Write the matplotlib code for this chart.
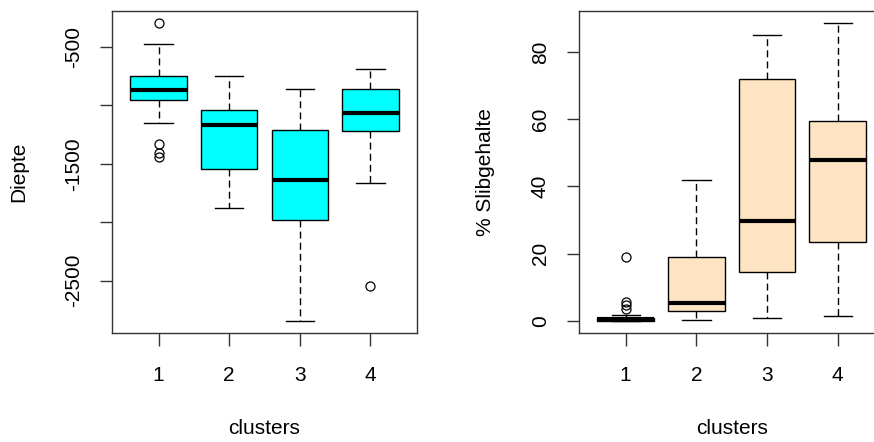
import matplotlib
matplotlib.use("Agg")
import matplotlib.pyplot as plt

# cluster labels
clusters = ["1", "2", "3", "4"]

# Diepte per cluster (box statistics)
diepte_whislo = [-1150, -1880, -2845, -1665]
diepte_q1 = [-955, -1545, -1980, -1220]
diepte_med = [-870, -1172, -1642, -1067]
diepte_q3 = [-750, -1038, -1210, -862]
diepte_whishi = [-474, -750, -862, -691]
diepte_fliers = [[-295, -1333, -1406, -1440], [], [], [-2545]]

# % Slibgehalte per cluster
slib_whislo = [0.0, 0.3, 0.8, 1.6]
slib_q1 = [0.1, 2.8, 14.6, 23.4]
slib_med = [0.5, 5.4, 29.7, 47.8]
slib_q3 = [1.0, 19.1, 72.0, 59.6]
slib_whishi = [1.9, 41.8, 85.1, 88.6]
slib_fliers = [[3.4, 4.6, 5.6, 19.1], [], [], []]

plt.rcParams['font.family'] = ['Liberation Sans', 'DejaVu Sans']


def stats(lo, q1, med, q3, hi, fl):
    out = []
    for i in range(len(clusters)):
        out.append(dict(whislo=lo[i], q1=q1[i], med=med[i], q3=q3[i],
                        whishi=hi[i], fliers=fl[i], label=clusters[i]))
    return out


def rbox(ax, st, colour, ylab, yticks, ylim):
    ax.bxp(st, positions=[1, 2, 3, 4], widths=0.8, patch_artist=True,
           boxprops=dict(facecolor=colour, edgecolor='black', linewidth=1.0),
           medianprops=dict(color='black', linewidth=3.0, solid_capstyle='butt'),
           whiskerprops=dict(color='black', linewidth=1.0, linestyle=(0, (5, 3))),
           capprops=dict(color='black', linewidth=1.0),
           capwidths=0.4,
           flierprops=dict(marker='o', markerfacecolor='none', markeredgecolor='black',
                           markersize=6.5, markeredgewidth=0.9))
    ax.set_xlim(0.34, 4.66)
    ax.set_ylim(*ylim)
    ax.set_xticks([1, 2, 3, 4], clusters)
    ax.set_yticks(yticks, [str(v) for v in yticks], rotation=90, va='center')
    ax.tick_params(length=9, width=1, labelsize=15, color='#333333')
    ax.tick_params(axis='x', pad=15)
    ax.tick_params(axis='y', pad=12)
    for s in ax.spines.values():
        s.set_linewidth(1.0)
        s.set_color('#333333')
    ax.set_xlabel('clusters', fontsize=15)
    ax.xaxis.label.set_va('center')
    ax.xaxis.set_label_coords(0.5, -0.298)
    ax.set_ylabel(ylab, fontsize=15)
    ax.yaxis.label.set_va('center')
    ax.yaxis.set_label_coords(-0.306, 0.5)


fig = plt.figure(figsize=(8.74, 4.42), dpi=100)
ax1 = fig.add_axes([0.1281, 0.2466, 0.349, 0.7285])
ax2 = fig.add_axes([0.6625, 0.2466, 0.3494, 0.7285])

rbox(ax1, stats(diepte_whislo, diepte_q1, diepte_med, diepte_q3, diepte_whishi, diepte_fliers),
     '#00FFFF', 'Diepte', [-500, -1000, -1500, -2000, -2500], (-2947, -195))
ax1.set_yticklabels(['-500', '', '-1500', '', '-2500'])
rbox(ax2, stats(slib_whislo, slib_q1, slib_med, slib_q3, slib_whishi, slib_fliers),
     '#FFE4C4', '% Slibgehalte', [0, 20, 40, 60, 80], (-3.6, 92.2))

fig.savefig('out.png', dpi=100)
